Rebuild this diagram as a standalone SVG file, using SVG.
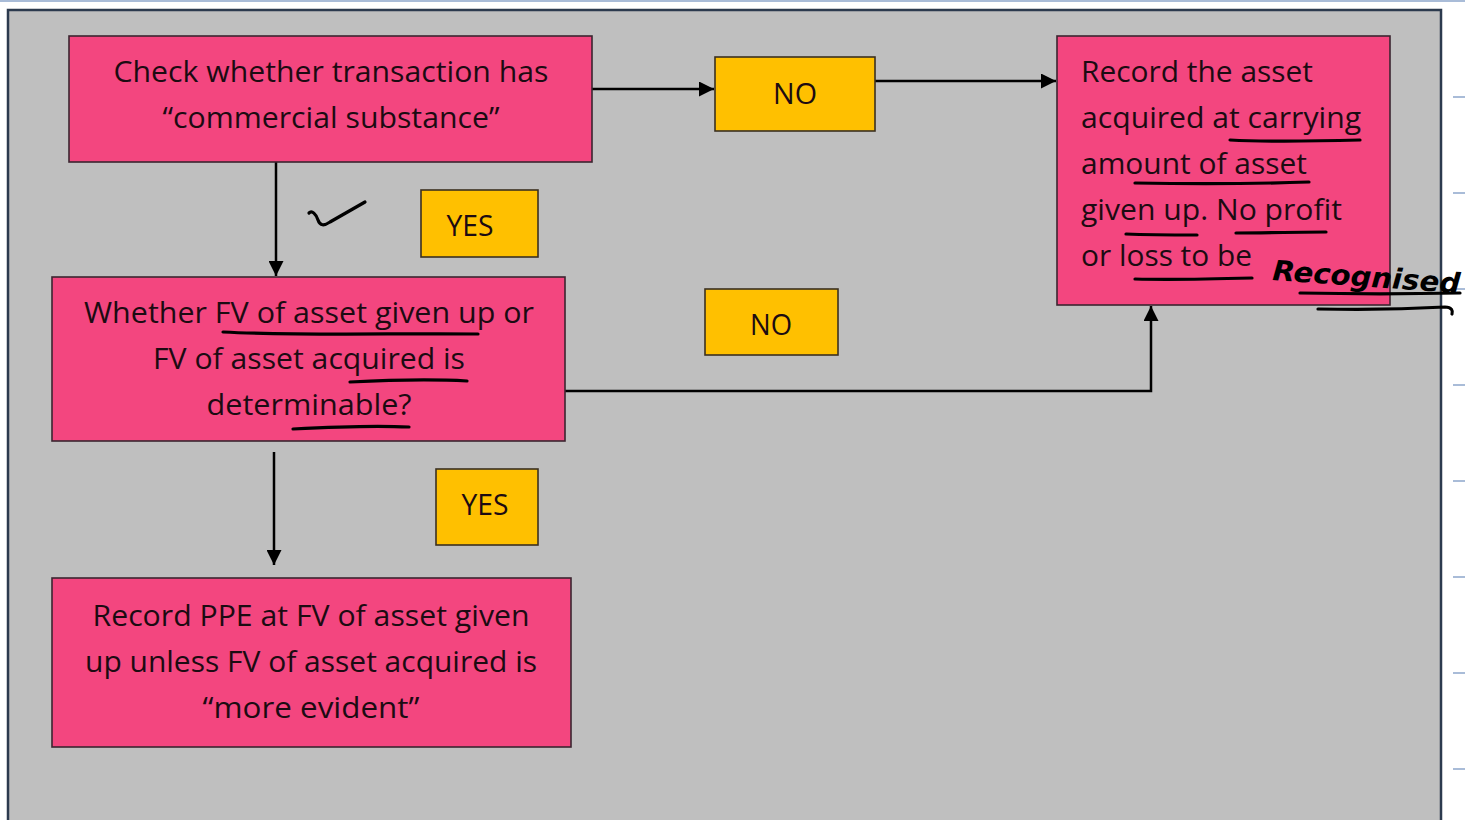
<svg xmlns="http://www.w3.org/2000/svg" width="1465" height="820" viewBox="0 0 1465 820">
<style>
.node{fill:#f3467f;stroke:#3b2530;stroke-width:1.6}
.lab{fill:#ffc000;stroke:#3b3020;stroke-width:1.6}
.t{font-family:"Open Sans","Noto Sans","Liberation Sans",sans-serif;font-size:29px;fill:#1c0b12}
.c{text-anchor:middle}
.conn{fill:none;stroke:#000;stroke-width:2.5}
.ink{fill:none;stroke:#000;stroke-width:3.2;stroke-linecap:round;stroke-linejoin:round}
.tick{stroke:#a9bcd8;stroke-width:2}
</style>
<defs>
<marker id="ah" viewBox="0 0 10 10" refX="10" refY="5" markerWidth="6" markerHeight="6" markerUnits="strokeWidth" orient="auto">
<path d="M0,0 L10,5 L0,10 z" fill="#000"/>
</marker>
</defs>
<rect x="0" y="0" width="1465" height="820" fill="#ffffff"/>
<line x1="0" y1="1" x2="1465" y2="1" stroke="#a9bcd8" stroke-width="2"/>
<g id="ticks">
<line class="tick" x1="1453" y1="97" x2="1465" y2="97"/>
<line class="tick" x1="1453" y1="193" x2="1465" y2="193"/>
<line class="tick" x1="1453" y1="289" x2="1465" y2="289"/>
<line class="tick" x1="1453" y1="385" x2="1465" y2="385"/>
<line class="tick" x1="1453" y1="481" x2="1465" y2="481"/>
<line class="tick" x1="1453" y1="577" x2="1465" y2="577"/>
<line class="tick" x1="1453" y1="673" x2="1465" y2="673"/>
<line class="tick" x1="1453" y1="769" x2="1465" y2="769"/>
</g>
<rect x="8" y="10" width="1433" height="830" fill="#bfbfbf" stroke="#2c3a4e" stroke-width="2.5"/>

<g id="connectors">
<line class="conn" x1="592" y1="89" x2="714" y2="89" marker-end="url(#ah)"/>
<line class="conn" x1="875" y1="81" x2="1056" y2="81" marker-end="url(#ah)"/>
<line class="conn" x1="276" y1="162" x2="276" y2="276" marker-end="url(#ah)"/>
<polyline class="conn" points="565,391 1151,391 1151,306" marker-end="url(#ah)"/>
<line class="conn" x1="274" y1="452" x2="274" y2="565" marker-end="url(#ah)"/>
</g>

<g id="node-check">
<rect class="node" x="69" y="36" width="523" height="126"/>
<text class="t c" x="331" y="82" textLength="435" lengthAdjust="spacingAndGlyphs">Check whether transaction has</text>
<text class="t c" x="331" y="128" textLength="337" lengthAdjust="spacingAndGlyphs">“commercial substance”</text>
</g>

<g id="label-no1">
<rect class="lab" x="715" y="57" width="160" height="74"/>
<text class="t c" x="795" y="104" textLength="44" lengthAdjust="spacingAndGlyphs">NO</text>
</g>

<g id="node-carrying">
<rect class="node" x="1057" y="36" width="333" height="269"/>
<text class="t" x="1081" y="82" textLength="232" lengthAdjust="spacingAndGlyphs">Record the asset</text>
<text class="t" x="1081" y="128" textLength="280" lengthAdjust="spacingAndGlyphs">acquired at carrying</text>
<text class="t" x="1081" y="174" textLength="226" lengthAdjust="spacingAndGlyphs">amount of asset</text>
<text class="t" x="1081" y="220" textLength="261" lengthAdjust="spacingAndGlyphs">given up. No profit</text>
<text class="t" x="1081" y="266" textLength="171" lengthAdjust="spacingAndGlyphs">or loss to be</text>
</g>

<g id="label-yes1">
<rect class="lab" x="421" y="190" width="117" height="67"/>
<text class="t c" x="470" y="236" textLength="47" lengthAdjust="spacingAndGlyphs">YES</text>
</g>

<g id="node-fv">
<rect class="node" x="52" y="277" width="513" height="164"/>
<text class="t c" x="309" y="323" textLength="450" lengthAdjust="spacingAndGlyphs">Whether FV of asset given up or</text>
<text class="t c" x="309" y="369" textLength="312" lengthAdjust="spacingAndGlyphs">FV of asset acquired is</text>
<text class="t c" x="309" y="415" textLength="205" lengthAdjust="spacingAndGlyphs">determinable?</text>
</g>

<g id="label-no2">
<rect class="lab" x="705" y="289" width="133" height="66"/>
<text class="t c" x="771" y="335" textLength="42" lengthAdjust="spacingAndGlyphs">NO</text>
</g>

<g id="label-yes2">
<rect class="lab" x="436" y="469" width="102" height="76"/>
<text class="t c" x="485" y="515" textLength="47" lengthAdjust="spacingAndGlyphs">YES</text>
</g>

<g id="node-ppe">
<rect class="node" x="52" y="578" width="519" height="169"/>
<text class="t c" x="311" y="626" textLength="437" lengthAdjust="spacingAndGlyphs">Record PPE at FV of asset given</text>
<text class="t c" x="311" y="672" textLength="452" lengthAdjust="spacingAndGlyphs">up unless FV of asset acquired is</text>
<text class="t c" x="311" y="718" textLength="217" lengthAdjust="spacingAndGlyphs">“more evident”</text>
</g>

<g id="annotations">
<path class="ink" d="M309,213 C312,210 316,214 318,220 C320,226 324,226 330,222 L365,202"/>
<path class="ink" d="M223,332 C300,336 400,333 478,334"/>
<path class="ink" d="M350,382 C390,380 430,379 467,381"/>
<path class="ink" d="M293,429 C330,427 370,425 409,427"/>
<path class="ink" d="M1230,140 C1270,142 1320,141 1360,140"/>
<path class="ink" d="M1135,183 C1190,184 1250,184 1309,182"/>
<path class="ink" d="M1126,234 C1150,235 1175,235 1197,235"/>
<path class="ink" d="M1236,233 C1265,233 1300,232 1326,232"/>
<path class="ink" d="M1135,279 C1170,280 1215,279 1252,278"/>
<path class="ink" d="M1300,293 C1350,294 1410,294 1460,293"/>
<path class="ink" d="M1318,309 C1360,310 1410,309 1445,307 C1452,307 1453,311 1452,314"/>
<text x="1272" y="280" font-family="'DejaVu Sans','Liberation Sans',sans-serif" font-size="28" font-style="italic" font-weight="bold" fill="#000" transform="rotate(4 1272 280)" textLength="188" lengthAdjust="spacingAndGlyphs">Recognised</text>
</g>
</svg>
